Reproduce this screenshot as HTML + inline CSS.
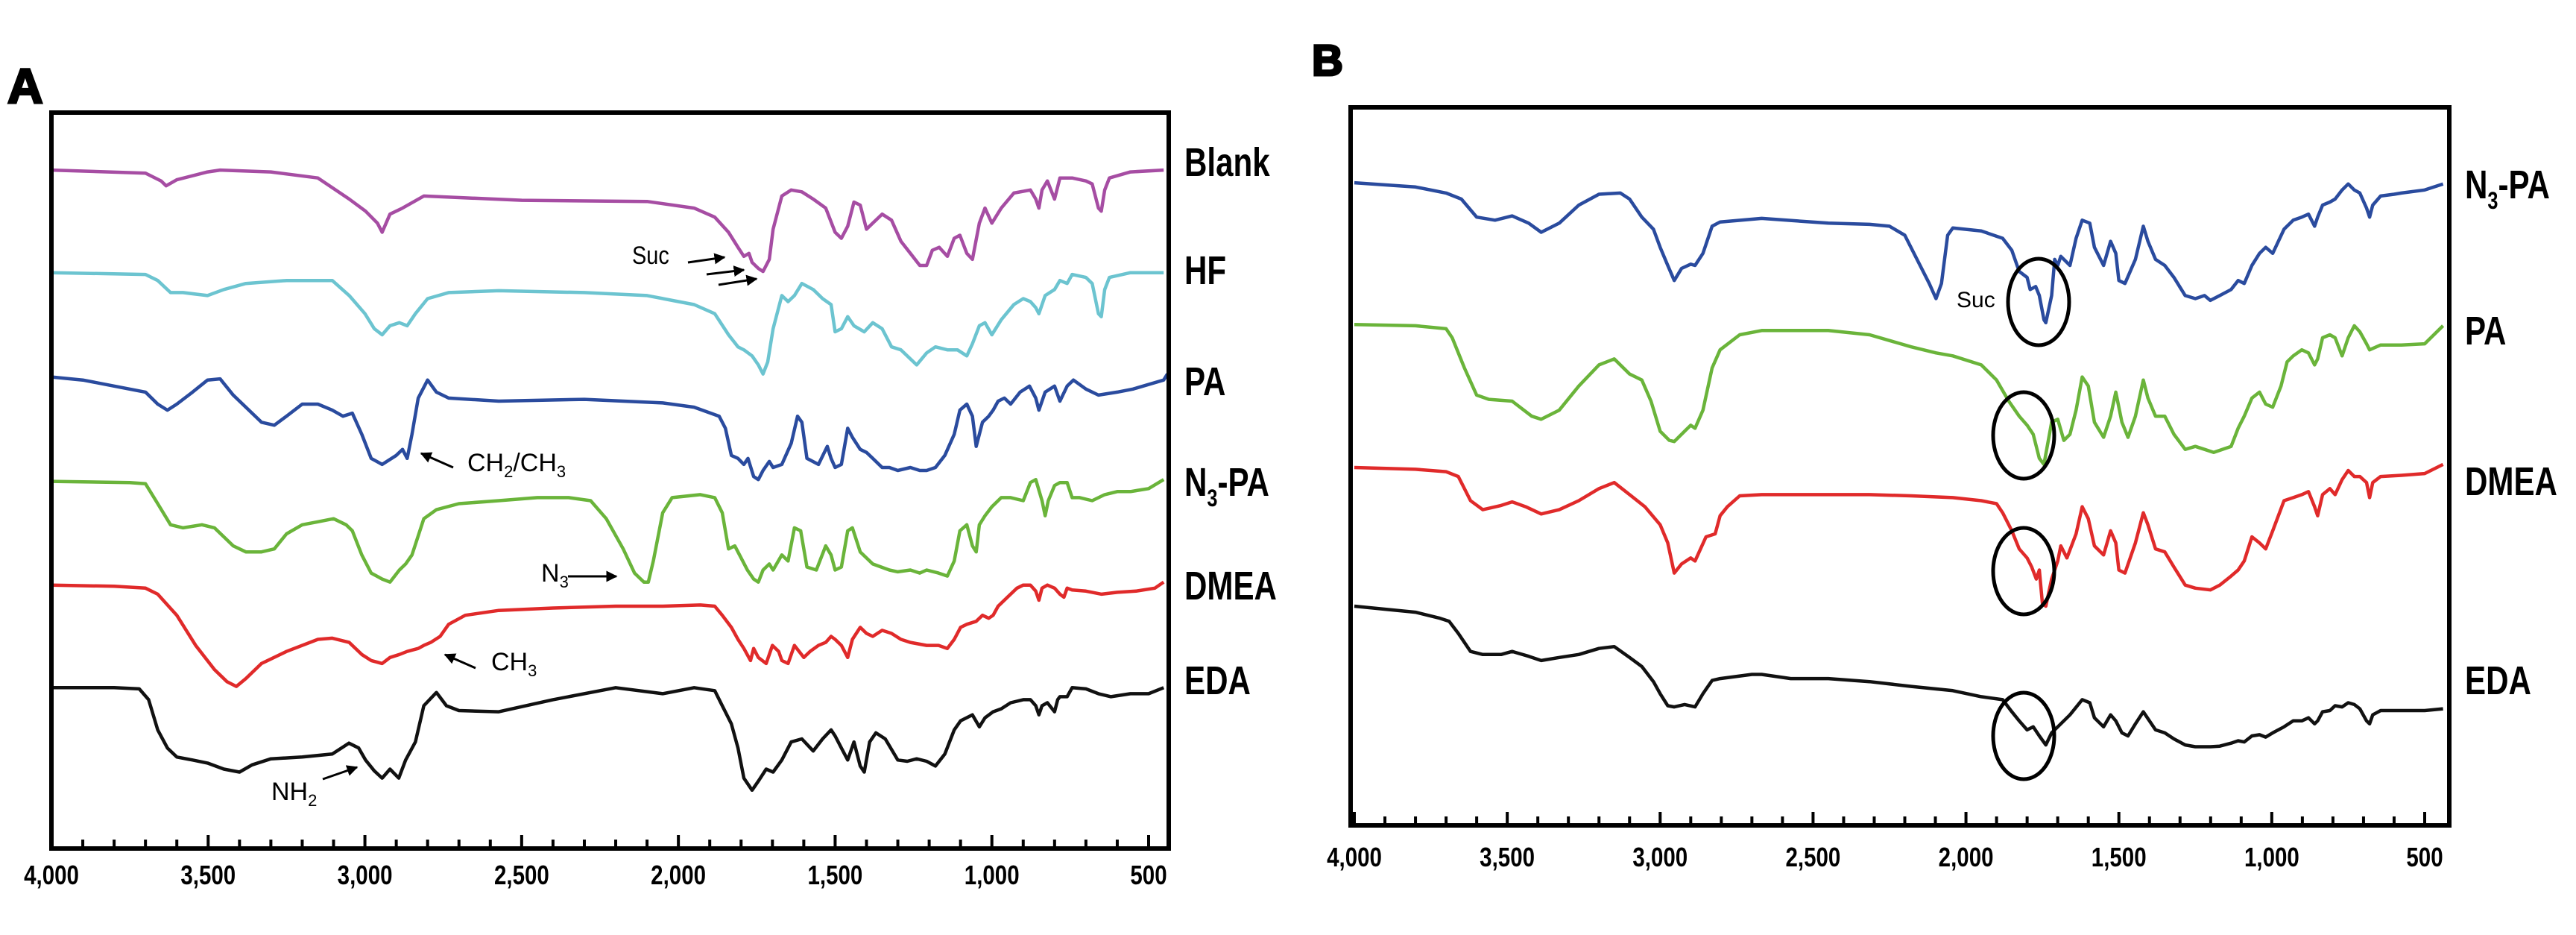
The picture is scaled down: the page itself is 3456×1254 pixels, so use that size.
<!DOCTYPE html>
<html><head><meta charset="utf-8"><style>
html,body{margin:0;padding:0;background:#fff;}
svg{display:block;}
text{font-family:"Liberation Sans",sans-serif;}
</style></head><body>
<svg id="fig" width="3456" height="1254" viewBox="0 0 3456 1254" xmlns="http://www.w3.org/2000/svg">
<g id="panelA"></g>
<g id="panelB"></g>
</svg>
<script>
// tick values (wavenumber, cm^-1)
const majorTicks = [4000,3500,3000,2500,2000,1500,1000,500];
const tickLabels = ["4,000","3,500","3,000","2,500","2,000","1,500","1,000","500"];
const minorTicks = [3900,3800,3700,3600,3400,3300,3200,3100,2900,2800,2700,2600,2400,2300,2200,2100,1900,1800,1700,1600,1400,1300,1200,1100,900,800,700,600];

// Panel A series: [wavenumber, offset transmittance units]
const aBlank = [[4000,282],[3700,287],[3650,300],[3634,308],[3600,298],[3502,285],[3462,282],[3300,285],[3150,295],[3050,330],[2998,350],[2960,370],[2945,385],[2920,355],[2880,345],[2812,325],[2500,332],[2100,334],[1950,345],[1884,360],[1840,385],[1810,410],[1791,425],[1775,420],[1765,435],[1745,445],[1730,450],[1710,430],[1698,380],[1670,325],[1640,315],[1606,318],[1570,330],[1530,345],[1500,385],[1480,395],[1460,375],[1440,335],[1420,340],[1400,380],[1380,370],[1350,355],[1320,365],[1290,400],[1260,420],[1230,440],[1208,440],[1190,415],[1168,410],[1142,425],[1120,395],[1102,390],[1080,420],[1062,430],[1040,370],[1022,345],[1000,370],[970,345],[930,320],[877,315],[860,330],[850,345],[840,315],[823,300],[800,330],[783,295],[744,295],[700,300],[680,305],[660,345],[651,350],[640,315],[625,295],[558,285],[452,282]];
const aHF = [[4000,452],[3700,455],[3661,465],[3620,485],[3580,485],[3502,490],[3450,480],[3380,470],[3250,465],[3104,465],[3050,490],[3000,520],[2970,545],[2945,555],[2920,540],[2890,535],[2865,540],[2839,520],[2800,495],[2733,485],[2573,482],[2300,485],[2100,490],[1950,505],[1884,520],[1840,555],[1810,575],[1791,580],[1765,590],[1745,605],[1730,620],[1715,600],[1698,545],[1670,490],[1650,500],[1630,490],[1606,470],[1570,480],[1540,495],[1513,505],[1500,550],[1480,545],[1460,525],[1440,540],[1407,550],[1380,535],[1350,545],[1320,575],[1290,580],[1260,595],[1240,605],[1208,585],[1180,575],[1142,580],[1110,580],[1080,590],[1062,570],[1040,540],[1022,535],[1000,555],[970,530],[930,505],[900,495],[877,500],[860,510],[850,520],[830,490],[800,480],[783,465],[760,470],[744,455],[700,460],[680,470],[660,520],[651,525],[640,480],[625,460],[558,452],[452,452]];
const aPA = [[4000,625],[3900,630],[3800,640],[3700,650],[3661,670],[3630,680],[3600,670],[3550,650],[3502,630],[3462,628],[3420,655],[3370,680],[3330,700],[3289,705],[3250,690],[3200,670],[3150,670],[3104,680],[3070,690],[3040,685],[3010,720],[2980,760],[2945,770],[2900,755],[2880,745],[2865,760],[2850,720],[2830,660],[2800,630],[2772,650],[2733,660],[2573,665],[2300,662],[2050,668],[1950,675],[1870,690],[1850,710],[1831,755],[1810,760],[1791,770],[1778,760],[1760,790],[1745,795],[1730,780],[1710,765],[1698,775],[1670,770],[1640,735],[1620,690],[1606,700],[1590,760],[1553,770],[1525,740],[1513,760],[1500,775],[1480,770],[1460,710],[1445,725],[1420,745],[1400,750],[1380,760],[1350,775],[1327,775],[1300,780],[1260,775],[1230,780],[1208,780],[1180,775],[1150,755],[1120,720],[1102,680],[1080,670],[1062,690],[1050,740],[1030,700],[1010,690],[996,680],[980,665],[960,660],[940,670],[910,650],[880,640],[860,660],[850,680],[830,650],[800,640],[783,665],[760,640],[740,630],[700,645],[660,655],[600,650],[550,645],[452,630],[440,620]];
const aN3PA = [[4000,798],[3750,800],[3700,802],[3661,835],[3620,870],[3580,875],[3520,870],[3480,875],[3420,905],[3380,915],[3330,915],[3289,910],[3250,885],[3200,870],[3150,865],[3100,860],[3060,870],[3040,880],[3010,920],[2980,950],[2945,960],[2920,965],[2890,945],[2870,935],[2850,920],[2812,860],[2772,845],[2700,835],[2573,830],[2450,825],[2350,825],[2280,830],[2230,860],[2176,910],[2140,950],[2110,965],[2096,965],[2080,930],[2050,850],[2020,825],[1930,820],[1884,825],[1860,850],[1840,910],[1820,905],[1800,925],[1780,945],[1760,960],[1745,965],[1730,945],[1710,935],[1698,945],[1670,920],[1650,930],[1630,875],[1610,880],[1590,940],[1560,945],[1530,905],[1513,920],[1500,945],[1480,940],[1460,880],[1445,875],[1420,915],[1380,935],[1327,945],[1300,948],[1260,945],[1230,950],[1208,945],[1170,950],[1142,955],[1120,930],[1102,880],[1080,870],[1062,905],[1050,915],[1040,870],[1022,855],[1000,840],[970,825],[940,825],[900,830],[877,800],[860,795],[840,830],[830,855],[820,830],[800,805],[783,800],[760,800],[744,825],[720,825],[680,830],[640,820],[600,815],[558,815],[500,810],[452,795]];
const aDMEA = [[4000,970],[3800,972],[3700,975],[3661,985],[3600,1020],[3540,1070],[3480,1110],[3440,1130],[3410,1138],[3380,1125],[3330,1100],[3250,1080],[3150,1060],[3104,1058],[3050,1065],[3010,1085],[2980,1095],[2945,1100],[2920,1090],[2890,1085],[2865,1080],[2830,1075],[2812,1070],[2790,1065],[2760,1055],[2733,1035],[2680,1020],[2573,1012],[2400,1008],[2200,1005],[2050,1005],[1930,1003],[1884,1005],[1860,1020],[1831,1040],[1810,1060],[1791,1075],[1770,1095],[1760,1075],[1745,1090],[1720,1100],[1700,1070],[1680,1080],[1670,1095],[1650,1100],[1630,1070],[1600,1090],[1580,1080],[1553,1070],[1530,1065],[1513,1055],[1500,1060],[1480,1070],[1460,1090],[1445,1060],[1420,1040],[1400,1050],[1380,1055],[1350,1045],[1320,1050],[1290,1060],[1260,1065],[1208,1070],[1170,1070],[1142,1075],[1120,1060],[1100,1040],[1080,1035],[1050,1030],[1030,1020],[1010,1025],[996,1020],[980,1005],[950,990],[920,975],[900,970],[877,970],[860,980],[850,995],[840,975],[823,970],[800,975],[783,985],[770,990],[760,975],[744,978],[700,980],[650,985],[600,982],[540,980],[480,975],[452,965]];
const aEDA = [[4000,1140],[3800,1140],[3720,1142],[3690,1160],[3661,1210],[3630,1240],[3600,1255],[3550,1260],[3502,1265],[3450,1275],[3400,1280],[3360,1268],[3300,1258],[3200,1255],[3104,1250],[3051,1232],[3020,1240],[2998,1260],[2970,1278],[2945,1290],[2920,1275],[2892,1290],[2870,1260],[2839,1230],[2812,1170],[2772,1148],[2740,1170],[2700,1178],[2573,1180],[2400,1160],[2200,1140],[2050,1150],[1950,1140],[1884,1145],[1860,1170],[1831,1200],[1810,1240],[1791,1290],[1765,1310],[1745,1295],[1720,1275],[1698,1280],[1670,1260],[1640,1230],[1606,1225],[1570,1245],[1540,1225],[1513,1210],[1500,1220],[1480,1240],[1460,1260],[1440,1230],[1420,1270],[1407,1280],[1390,1230],[1370,1215],[1340,1225],[1300,1260],[1270,1262],[1240,1258],[1208,1262],[1180,1270],[1150,1250],[1120,1210],[1100,1195],[1062,1185],[1040,1205],[1022,1190],[996,1180],[970,1175],[940,1165],[900,1160],[877,1160],[860,1170],[850,1185],[840,1170],[823,1165],[800,1180],[790,1160],[783,1155],[760,1155],[744,1140],[700,1142],[660,1150],[620,1155],[558,1150],[500,1150],[452,1140]];

// Panel B series
const bN3PA = [[4000,303],[3800,310],[3700,320],[3650,330],[3600,360],[3540,365],[3484,358],[3430,370],[3389,385],[3330,370],[3266,340],[3200,322],[3130,320],[3100,330],[3060,360],[3022,380],[3000,410],[2975,440],[2954,465],[2930,445],[2900,438],[2886,440],[2860,420],[2830,375],[2804,368],[2668,362],[2450,370],[2315,372],[2250,375],[2200,390],[2160,430],[2120,470],[2098,495],[2080,470],[2060,390],[2043,378],[1950,383],[1880,395],[1850,415],[1826,450],[1800,460],[1790,480],[1772,475],[1760,490],[1745,530],[1739,535],[1720,490],[1710,430],[1700,440],[1690,425],[1660,440],[1640,395],[1620,365],[1595,370],[1580,410],[1550,440],[1527,400],[1510,420],[1500,465],[1480,470],[1446,430],[1420,375],[1405,400],[1380,430],[1350,440],[1320,460],[1283,490],[1250,495],[1220,490],[1201,498],[1170,490],[1133,480],[1110,465],[1090,470],[1065,440],[1040,420],[1020,410],[997,420],[960,380],[930,365],[902,360],[880,355],[860,375],[850,360],[834,340],[810,335],[793,330],[770,315],[750,305],[730,315],[712,320],[690,345],[680,360],[670,340],[644,325],[600,322],[576,320],[500,315],[440,305]];
const bPA = [[4000,538],[3800,540],[3700,545],[3680,560],[3640,610],[3600,655],[3560,662],[3484,665],[3420,690],[3389,695],[3330,680],[3266,640],[3200,605],[3150,595],[3100,620],[3060,630],[3030,665],[3000,715],[2970,730],[2954,732],[2920,715],[2900,705],[2886,710],[2860,680],[2830,610],[2804,580],[2740,555],[2668,548],[2450,548],[2315,555],[2179,575],[2098,585],[2043,590],[1950,605],[1900,630],[1860,665],[1826,690],[1800,705],[1780,720],[1760,760],[1745,770],[1720,700],[1700,695],[1680,730],[1660,720],[1640,680],[1620,625],[1600,640],[1580,700],[1550,725],[1527,690],[1510,650],[1490,700],[1470,725],[1446,690],[1420,630],[1405,660],[1380,690],[1350,690],[1320,720],[1283,745],[1250,740],[1220,745],[1190,750],[1133,740],[1110,710],[1090,690],[1065,660],[1040,650],[1020,670],[997,675],[970,640],[950,600],[930,590],[902,580],[880,585],[860,605],[850,595],[834,560],[810,555],[793,560],[770,590],[750,560],[730,540],[712,550],[690,570],[680,580],[644,572],[576,572],[500,570],[440,540]];
const bDMEA = [[4000,775],[3800,778],[3700,782],[3660,790],[3620,830],[3580,845],[3520,838],[3484,832],[3440,840],[3389,852],[3330,845],[3266,830],[3200,810],[3150,800],[3100,820],[3050,840],[3000,870],[2975,900],[2954,950],[2930,935],[2900,925],[2886,930],[2850,890],[2820,885],[2804,855],[2780,840],[2740,822],[2668,820],[2315,820],[2179,822],[2043,825],[1950,830],[1900,835],[1880,850],[1850,880],[1826,910],[1800,925],[1785,940],[1770,960],[1760,945],[1750,1000],[1739,1005],[1720,960],[1700,930],[1690,905],[1670,925],[1640,885],[1620,840],[1600,860],[1580,905],[1550,920],[1527,880],[1510,900],[1500,945],[1480,950],[1446,900],[1420,850],[1405,870],[1380,910],[1350,915],[1320,940],[1283,970],[1250,975],[1201,978],[1170,970],[1133,955],[1110,945],[1090,930],[1065,890],[1040,900],[1020,910],[997,880],[960,830],[930,825],[902,820],[880,815],[860,840],[850,855],[834,820],[810,810],[793,820],[770,795],[750,780],[730,790],[712,790],[690,800],[680,825],[670,800],[644,790],[576,788],[500,785],[440,770]];
const bEDA = [[4000,1005],[3800,1015],[3720,1025],[3690,1030],[3660,1050],[3620,1080],[3580,1085],[3520,1085],[3484,1080],[3430,1088],[3389,1095],[3330,1090],[3266,1085],[3200,1075],[3150,1072],[3100,1090],[3060,1105],[3022,1130],[3000,1150],[2975,1170],[2954,1172],[2920,1168],[2886,1172],[2860,1150],[2830,1128],[2804,1125],[2700,1118],[2668,1118],[2573,1125],[2450,1125],[2315,1130],[2179,1138],[2043,1145],[1950,1155],[1880,1160],[1850,1180],[1826,1195],[1800,1210],[1780,1205],[1760,1220],[1739,1235],[1720,1215],[1700,1205],[1660,1185],[1620,1160],[1595,1165],[1580,1190],[1550,1205],[1527,1185],[1510,1195],[1490,1215],[1470,1220],[1446,1200],[1420,1180],[1400,1195],[1380,1210],[1350,1215],[1320,1225],[1283,1235],[1250,1238],[1201,1238],[1170,1237],[1133,1232],[1110,1228],[1090,1230],[1065,1220],[1040,1218],[1020,1222],[997,1215],[960,1205],[930,1195],[902,1195],[880,1190],[860,1200],[850,1195],[834,1180],[810,1178],[793,1170],[770,1172],[750,1165],[730,1168],[712,1175],[690,1195],[680,1200],[670,1185],[644,1178],[576,1178],[500,1178],[440,1175]];

const NS = "http://www.w3.org/2000/svg";
function mk(parent, tag, attrs){
  const e = document.createElementNS(NS, tag);
  for (const k in attrs) e.setAttribute(k, attrs[k]);
  parent.appendChild(e);
  return e;
}
function yScale(v){ return v*0.809; }

function drawPanel(g, cfg, series){
  const xs = w => cfg.x4000 + (4000 - w)/3500*(cfg.x500 - cfg.x4000);
  series.forEach(s => {
    const d = s.data.map((p,i)=>(i?'L':'M')+xs(p[0]).toFixed(1)+','+yScale(p[1]).toFixed(1)).join(' ');
    const path = mk(g,'path',{d:d, fill:'none', stroke:s.color, 'stroke-width':4.5, 'stroke-linejoin':'round'});
    
    
    const lab = mk(g,'text',{x:0,y:0,'font-size':cfg.labelSize,'font-weight':'bold',fill:'#000',
      transform:'translate('+cfg.labelX+','+s.ly+') scale(0.78,1)'});
    
    
    if (s.label === 'N3-PA'){
      lab.innerHTML = 'N<tspan font-size="'+(cfg.labelSize*0.6)+'" dy="14">3</tspan><tspan dy="-14">-PA</tspan>';
    } else lab.textContent = s.label;
  });
  const box = mk(g,'rect',{x:cfg.left,y:cfg.top,width:cfg.right-cfg.left,height:cfg.bottom-cfg.top,fill:'none',stroke:'#000','stroke-width':6});
  
  
  minorTicks.forEach(t=>{
    const l = mk(g,'line',{x1:xs(t),x2:xs(t),y1:cfg.bottom,y2:cfg.bottom-12,stroke:'#000','stroke-width':4});
    
    
  });
  majorTicks.forEach((t,i)=>{
    const l = mk(g,'line',{x1:xs(t),x2:xs(t),y1:cfg.bottom,y2:cfg.bottom-18,stroke:'#000','stroke-width':4});
    
    
    const tx = mk(g,'text',{x:0,y:0,'font-size':36,'font-weight':'bold','text-anchor':'middle',fill:'#000',
      transform:'translate('+xs(t).toFixed(1)+','+cfg.tickY+') scale(0.82,1)'});
    tx.textContent = tickLabels[i];
    
    
  });
}

const gA = document.getElementById('panelA');
drawPanel(gA, {x4000:69,x500:1541,left:69,right:1568,top:151,bottom:1138,labelX:1589,labelSize:54,tickY:1186}, [
  {name:'blank-spectrum',label:'Blank',color:'#a64da3',data:aBlank,ly:236},
  {name:'hf-spectrum',label:'HF',color:'#6cc4d0',data:aHF,ly:381},
  {name:'pa-spectrum',label:'PA',color:'#2a4b9e',data:aPA,ly:530},
  {name:'n3-pa-spectrum',label:'N3-PA',color:'#6ab43a',data:aN3PA,ly:665},
  {name:'dmea-spectrum',label:'DMEA',color:'#e02a2a',data:aDMEA,ly:804},
  {name:'eda-spectrum',label:'EDA',color:'#111111',data:aEDA,ly:931}
]);
const gB = document.getElementById('panelB');
drawPanel(gB, {x4000:1817,x500:3253,left:1812,right:3286,top:144,bottom:1107,labelX:3307,labelSize:54,tickY:1162}, [
  {name:'b-n3-pa-spectrum',label:'N3-PA',color:'#2a4b9e',data:bN3PA,ly:266},
  {name:'b-pa-spectrum',label:'PA',color:'#6ab43a',data:bPA,ly:462},
  {name:'b-dmea-spectrum',label:'DMEA',color:'#e02a2a',data:bDMEA,ly:664},
  {name:'b-eda-spectrum',label:'EDA',color:'#111111',data:bEDA,ly:931}
]);
</script>
<svg style="position:absolute;left:0;top:0" width="3456" height="1254">
<defs><marker id="ah" viewBox="0 0 10 10" refX="9" refY="5" markerWidth="5" markerHeight="5" orient="auto"><path d="M0,0 L10,5 L0,10 z" fill="#000"/></marker></defs>
<text x="10" y="138" font-family="Liberation Sans" font-weight="900" font-size="66" stroke="#000" stroke-width="3">A</text>
<text x="1760" y="101" font-family="Liberation Sans" font-weight="900" font-size="58" stroke="#000" stroke-width="3">B</text>
<g font-family="Liberation Sans" font-size="34">
<text x="848" y="354" transform="translate(848,354) scale(0.85,1) translate(-848,-354)">Suc</text>
<line x1="923" y1="352" x2="972" y2="345" stroke="#000" stroke-width="3" marker-end="url(#ah)"/>
<line x1="948" y1="368" x2="998" y2="362" stroke="#000" stroke-width="3" marker-end="url(#ah)"/>
<line x1="964" y1="382" x2="1015" y2="374" stroke="#000" stroke-width="3" marker-end="url(#ah)"/>
</g>
<g font-family="Liberation Sans" font-size="34">
<line x1="608" y1="627" x2="565" y2="608" stroke="#000" stroke-width="3" marker-end="url(#ah)"/>
<text x="627" y="632">CH<tspan font-size="22" dy="8">2</tspan><tspan dy="-8">/CH</tspan><tspan font-size="22" dy="8">3</tspan></text>
</g>
<g font-family="Liberation Sans" font-size="34">
<text x="726" y="780">N<tspan font-size="22" dy="8">3</tspan></text>
<line x1="762" y1="773" x2="827" y2="773" stroke="#000" stroke-width="3" marker-end="url(#ah)"/>
</g>
<g font-family="Liberation Sans" font-size="34">
<line x1="638" y1="896" x2="597" y2="878" stroke="#000" stroke-width="3" marker-end="url(#ah)"/>
<text x="659" y="899">CH<tspan font-size="22" dy="8">3</tspan></text>
</g>
<g font-family="Liberation Sans" font-size="34">
<text x="364" y="1073">NH<tspan font-size="22" dy="8">2</tspan></text>
<line x1="433" y1="1045" x2="479" y2="1029" stroke="#000" stroke-width="3" marker-end="url(#ah)"/>
</g>
<g fill="none" stroke="#000" stroke-width="5">
<ellipse cx="2735" cy="405" rx="41" ry="58"/>
<ellipse cx="2715" cy="584" rx="41" ry="58"/>
<ellipse cx="2715" cy="766" rx="41" ry="58"/>
<ellipse cx="2715" cy="987" rx="41" ry="58"/>
</g>
<text x="2625" y="412" font-family="Liberation Sans" font-size="30">Suc</text>
</svg>
</body></html>
